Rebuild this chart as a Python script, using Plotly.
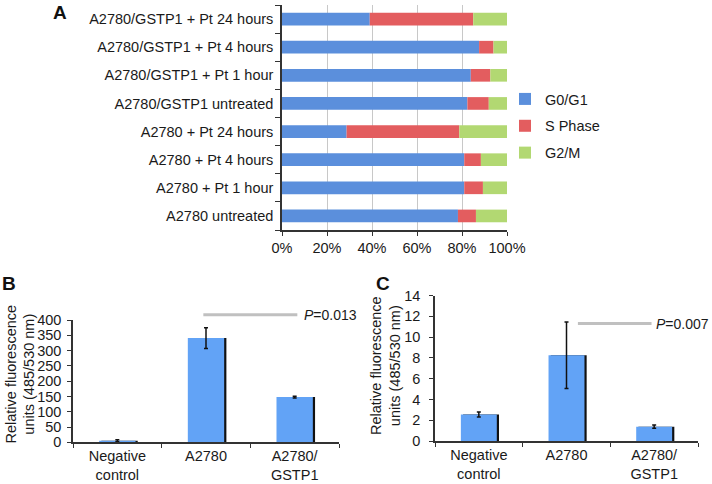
import plotly.graph_objects as go

# ---------- Panel A data (bottom to top) ----------
a_categories = ["A2780 untreated", "A2780 + Pt 1 hour", "A2780 + Pt 4 hours", "A2780 + Pt 24 hours",
                "A2780/GSTP1 untreated", "A2780/GSTP1 + Pt 1 hour", "A2780/GSTP1 + Pt 4 hours",
                "A2780/GSTP1 + Pt 24 hours"]
g0g1 = [78.2, 81.0, 81.0, 28.7, 82.4, 83.9, 87.6, 39.0]
s_phase = [8.0, 8.3, 7.4, 50.1, 9.5, 8.7, 6.4, 46.0]
g2m = [13.8, 10.7, 11.6, 21.2, 8.1, 7.4, 6.0, 15.0]
a_ticks = [0, 20, 40, 60, 80, 100]
a_ticktext = ["0%", "20%", "40%", "60%", "80%", "100%"]

# ---------- Panel B / C data ----------
bc_categories = ["Negative<br>control", "A2780", "A2780/<br>GSTP1"]
b_values = [5, 341, 148]
b_errors = [3, 34, 3]
c_values = [2.55, 8.25, 1.38]
c_errors = [0.25, 3.2, 0.15]
b_pvalue = "<i>P</i>=0.013"
c_pvalue = "<i>P</i>=0.007"
ytitle = "Relative fluorescence<br>units (485/530 nm)"

BLUE_A = "#5b8fdc"
RED_A = "#e35d5f"
GREEN_A = "#b2d872"
BLUE_B = "#62a3f6"
FONT = "Liberation Sans, Arial, sans-serif"

fig = go.Figure()

base_s = [a + 0 for a in g0g1]
base_g = [a + b for a, b in zip(g0g1, s_phase)]
for name, vals, base, col in [("G0/G1", g0g1, None, BLUE_A),
                              ("S Phase", s_phase, base_s, RED_A),
                              ("G2/M", g2m, base_g, GREEN_A)]:
    fig.add_trace(go.Bar(
        y=a_categories, x=vals, base=base, orientation="h", name=name,
        marker=dict(color=col, line=dict(width=0)), width=0.45,
        xaxis="x", yaxis="y", legendgroup=name, showlegend=True))

# Panel B
fig.add_trace(go.Bar(x=bc_categories, y=b_values, width=0.41, offset=-0.18,
                     marker=dict(color="#111111", line=dict(width=0)),
                     xaxis="x2", yaxis="y2", showlegend=False, hoverinfo="skip"))
fig.add_trace(go.Bar(x=bc_categories, y=b_values, width=0.41, offset=-0.205,
                     marker=dict(color=BLUE_B, line=dict(width=0)),
                     error_y=dict(type="data", array=b_errors, color="#111111", thickness=1.5, width=2),
                     xaxis="x2", yaxis="y2", showlegend=False))
# Panel C
fig.add_trace(go.Bar(x=bc_categories, y=c_values, width=0.41, offset=-0.18,
                     marker=dict(color="#111111", line=dict(width=0)),
                     xaxis="x3", yaxis="y3", showlegend=False, hoverinfo="skip"))
fig.add_trace(go.Bar(x=bc_categories, y=c_values, width=0.41, offset=-0.205,
                     marker=dict(color=BLUE_B, line=dict(width=0)),
                     error_y=dict(type="data", array=c_errors, color="#111111", thickness=1.5, width=2),
                     xaxis="x3", yaxis="y3", showlegend=False))

W, H = 712, 484
def px_x(p): return p / W
def px_y(p): return 1 - p / H

tickfont = dict(family=FONT, size=14.5, color="#1a1a1a")
axis_common = dict(automargin=False, showline=True, linecolor="#333", linewidth=1.5,
                   ticks="outside", tickcolor="#333", tickfont=tickfont, zeroline=False)

fig.update_layout(
    width=W, height=H, margin=dict(l=0, r=0, t=0, b=0, autoexpand=False),
    paper_bgcolor="white", plot_bgcolor="white",
    barmode="overlay", font=dict(family=FONT, color="#1a1a1a"),
    legend=dict(x=px_x(505), y=px_y(83), xanchor="left", yanchor="top",
                font=dict(family=FONT, size=14.5, color="#1a1a1a"),
                tracegroupgap=5, itemwidth=30, bgcolor="rgba(0,0,0,0)"),
    xaxis=dict(domain=[px_x(282), px_x(507)], anchor="y", range=[0, 100],
               tickvals=a_ticks, ticktext=a_ticktext, showgrid=True, gridcolor="#c8c8c8", gridwidth=1,
               ticklen=4, **axis_common),
    yaxis=dict(domain=[px_y(230), px_y(5)], anchor="x", type="category",
               categoryorder="array", categoryarray=a_categories,
               ticklen=5, tickson="boundaries", ticklabelstandoff=4, showgrid=False, **axis_common),
    xaxis2=dict(domain=[px_x(73), px_x(339)], anchor="y2", type="category",
                range=[-0.5, 2.5], ticklen=4, tickson="boundaries", showgrid=False, **axis_common),
    yaxis2=dict(domain=[px_y(442.3), px_y(320)], anchor="x2", range=[0, 400], dtick=50,
                ticklen=4, ticklabelstandoff=3, showgrid=False, **axis_common),
    xaxis3=dict(domain=[px_x(435), px_x(698)], anchor="y3", type="category",
                range=[-0.5, 2.5], ticklen=4, tickson="boundaries", showgrid=False, **axis_common),
    yaxis3=dict(domain=[px_y(441), px_y(295.5)], anchor="x3", range=[0, 14], dtick=2,
                ticklen=4, ticklabelstandoff=6, showgrid=False, **axis_common),
)

# Y-axis titles as rotated annotations
for x, y in [(19.5, 374), (385, 366)]:
    fig.add_annotation(xref="paper", yref="paper", x=px_x(x), y=px_y(y), text=ytitle,
                       textangle=-90, showarrow=False, xanchor="center", yanchor="middle",
                       font=dict(family=FONT, size=14.5, color="#1a1a1a"))

# P-value bars and labels (y given in domain fraction so they are not clipped)
b_ly = 417 / 400
fig.add_shape(type="line", xref="x2", yref="y2 domain", x0=0.97, x1=2.03, y0=b_ly, y1=b_ly,
              line=dict(color="#c0c0c0", width=3))
fig.add_annotation(xref="x2", yref="y2 domain", x=2.08, y=b_ly, text=b_pvalue, showarrow=False,
                   xanchor="left", yanchor="middle", font=dict(family=FONT, size=14))
c_ly = 11.3 / 14
fig.add_shape(type="line", xref="x3", yref="y3 domain", x0=1.13, x1=1.97, y0=c_ly, y1=c_ly,
              line=dict(color="#c0c0c0", width=3))
fig.add_annotation(xref="x3", yref="y3 domain", x=2.0, y=c_ly, text=c_pvalue, showarrow=False,
                   xanchor="left", yanchor="middle", font=dict(family=FONT, size=14))

# Panel letters
for letter, x, y in [("A", 60, 13), ("B", 9, 283), ("C", 383, 283)]:
    fig.add_annotation(xref="paper", yref="paper", x=px_x(x), y=px_y(y), text="<b>%s</b>" % letter,
                       showarrow=False, xanchor="center", yanchor="middle",
                       font=dict(family=FONT, size=19, color="#111"))

fig.write_html("out.html", config={"displayModeBar": False},
               post_script="document.body.style.margin='0';document.body.style.overflow='hidden';")
